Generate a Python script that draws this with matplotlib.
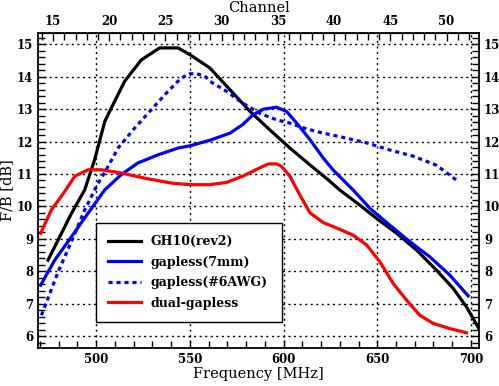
import matplotlib
matplotlib.use("Agg")
import matplotlib.pyplot as plt
from matplotlib.ticker import MultipleLocator, FixedLocator

# values (frequency in MHz, F/B in dB)
gh10_f = [474.3, 479.7, 486.8, 493.9, 499.2, 504.6, 509.0, 515.2, 524.1, 533.9,
          543.7, 550.1, 560.7, 571.4, 582.1, 592.7, 603.4, 614.1, 623.8, 630.1,
          640.7, 649.6, 660.3, 671.0, 681.6, 690.5, 697.6, 704.7]
gh10_v = [8.34, 8.96, 9.78, 10.51, 11.44, 12.62, 13.14, 13.86, 14.52, 14.89,
          14.89, 14.68, 14.27, 13.6, 12.93, 12.36, 11.8, 11.28, 10.82, 10.5,
          10.04, 9.63, 9.17, 8.65, 8.03, 7.47, 6.9, 6.18]

gap7_f = [470.4, 477.9, 486.8, 495.7, 504.6, 513.4, 522.3, 533.0, 543.7, 550.1,
          560.7, 571.4, 578.1, 583.8, 589.2, 596.3, 601.6, 607.0, 614.1, 621.2,
          626.5, 637.2, 646.1, 656.7, 667.4, 678.1, 688.7, 698.5]
gap7_v = [7.57, 8.34, 9.06, 9.79, 10.51, 10.98, 11.34, 11.59, 11.8, 11.87,
          12.04, 12.26, 12.52, 12.83, 13.0, 13.06, 12.93, 12.57, 12.06, 11.49,
          11.12, 10.5, 9.94, 9.42, 8.91, 8.44, 7.88, 7.24]

awg_f = [470.8, 474.3, 479.7, 486.8, 493.9, 501.0, 505.4, 511.7, 520.6, 529.4,
         538.3, 545.4, 549.9, 553.0, 557.9, 560.7, 569.6, 578.1, 587.0, 596.3,
         603.4, 612.3, 621.2, 630.1, 644.3, 656.7, 669.2, 681.6, 692.3]
awg_v = [6.64, 7.16, 7.98, 8.91, 9.89, 10.71, 11.13, 11.8, 12.42, 12.98,
         13.55, 13.96, 14.09, 14.1, 14.03, 13.86, 13.55, 13.19, 12.88, 12.67,
         12.57, 12.39, 12.26, 12.15, 11.96, 11.74, 11.55, 11.27, 10.81]

dual_f = [470.4, 476.1, 482.3, 488.6, 495.7, 502.8, 513.4, 525.9, 540.1, 550.1,
          560.7, 569.6, 578.1, 587.0, 591.8, 596.3, 599.0, 603.4, 608.7, 614.1,
          621.2, 630.1, 637.2, 644.3, 651.4, 658.5, 665.6, 672.7, 679.8, 688.7,
          697.6]
dual_v = [9.17, 9.89, 10.38, 10.93, 11.13, 11.13, 11.03, 10.87, 10.72, 10.67,
          10.67, 10.74, 10.93, 11.18, 11.31, 11.31, 11.23, 10.93, 10.35, 9.8,
          9.5, 9.29, 9.11, 8.81, 8.29, 7.62, 7.11, 6.64, 6.39, 6.23,
          6.1]

labels = ["GH10(rev2)", "gapless(7mm)", "gapless(#6AWG)", "dual-gapless"]
channel_ticks = [15, 20, 25, 30, 35, 40, 45, 50]


def f2ch(f):
    return (f - 387.0) / 6.0


def ch2f(ch):
    return ch * 6.0 + 387.0


def main():
    plt.rcParams['font.family'] = 'DejaVu Serif'
    fig = plt.figure(figsize=(4.99, 3.86), dpi=100)
    ax = fig.add_axes([0.0762, 0.0984, 0.8838, 0.8161])

    lw = 2.3
    ax.plot(gh10_f, gh10_v, color='black', lw=lw, label=labels[0])
    ax.plot(gap7_f, gap7_v, color='#0000ff', lw=lw, label=labels[1])
    ax.plot(awg_f, awg_v, color='#0000ff', lw=lw, dashes=(1.3, 1.2),
            label=labels[2])
    ax.plot(dual_f, dual_v, color='#ff0000', lw=lw, label=labels[3])

    ax.set_xlim(469, 704.3)
    ax.set_ylim(5.63, 15.35)

    ax.xaxis.set_major_locator(MultipleLocator(50))
    ax.xaxis.set_minor_locator(MultipleLocator(10))
    ax.yaxis.set_major_locator(MultipleLocator(1))
    ax.yaxis.set_minor_locator(MultipleLocator(0.2))
    ax.tick_params(which='both', direction='in', right=True, labelright=True,
                   width=1.0, labelsize=8.5)
    ax.tick_params(which='major', length=6)
    ax.tick_params(which='minor', length=5)
    for t in ax.get_xticklabels() + ax.yaxis.get_ticklabels(which='both'):
        t.set_fontweight('bold')
    for t in ax.yaxis.get_ticklabels(which='both', minor=False):
        t.set_fontweight('bold')
    for s in ax.spines.values():
        s.set_linewidth(1.3)

    ax.grid(True, which='major', color='black', linestyle=(0, (1.5, 2.5)),
            linewidth=1.0)

    top = ax.secondary_xaxis('top', functions=(f2ch, ch2f))
    top.xaxis.set_major_locator(FixedLocator(channel_ticks))
    top.xaxis.set_minor_locator(FixedLocator(list(range(14, 53))))
    top.tick_params(which='both', direction='in', width=1.0, labelsize=8.5)
    top.tick_params(which='major', length=6)
    top.tick_params(which='minor', length=5)
    top.set_xticklabels([str(c) for c in channel_ticks], fontweight='bold')
    top.set_xlabel("Channel", fontsize=10.5, labelpad=2)

    ax.set_xlabel("Frequency [MHz]", fontsize=10.5, labelpad=1)
    ax.set_ylabel("F/B [dB]", fontsize=10.5, labelpad=2)

    leg = ax.legend(loc='lower left', bbox_to_anchor=(0.131, 0.082, 0.423, 0.322),
                    mode='expand', borderaxespad=0, fancybox=False,
                    edgecolor='black', framealpha=1, handlelength=2.6,
                    labelspacing=0.6, borderpad=1.0,
                    prop={'weight': 'bold', 'size': 9})
    leg.get_frame().set_linewidth(1.0)

    fig.savefig("out.png", dpi=100)


if __name__ == "__main__":
    main()
